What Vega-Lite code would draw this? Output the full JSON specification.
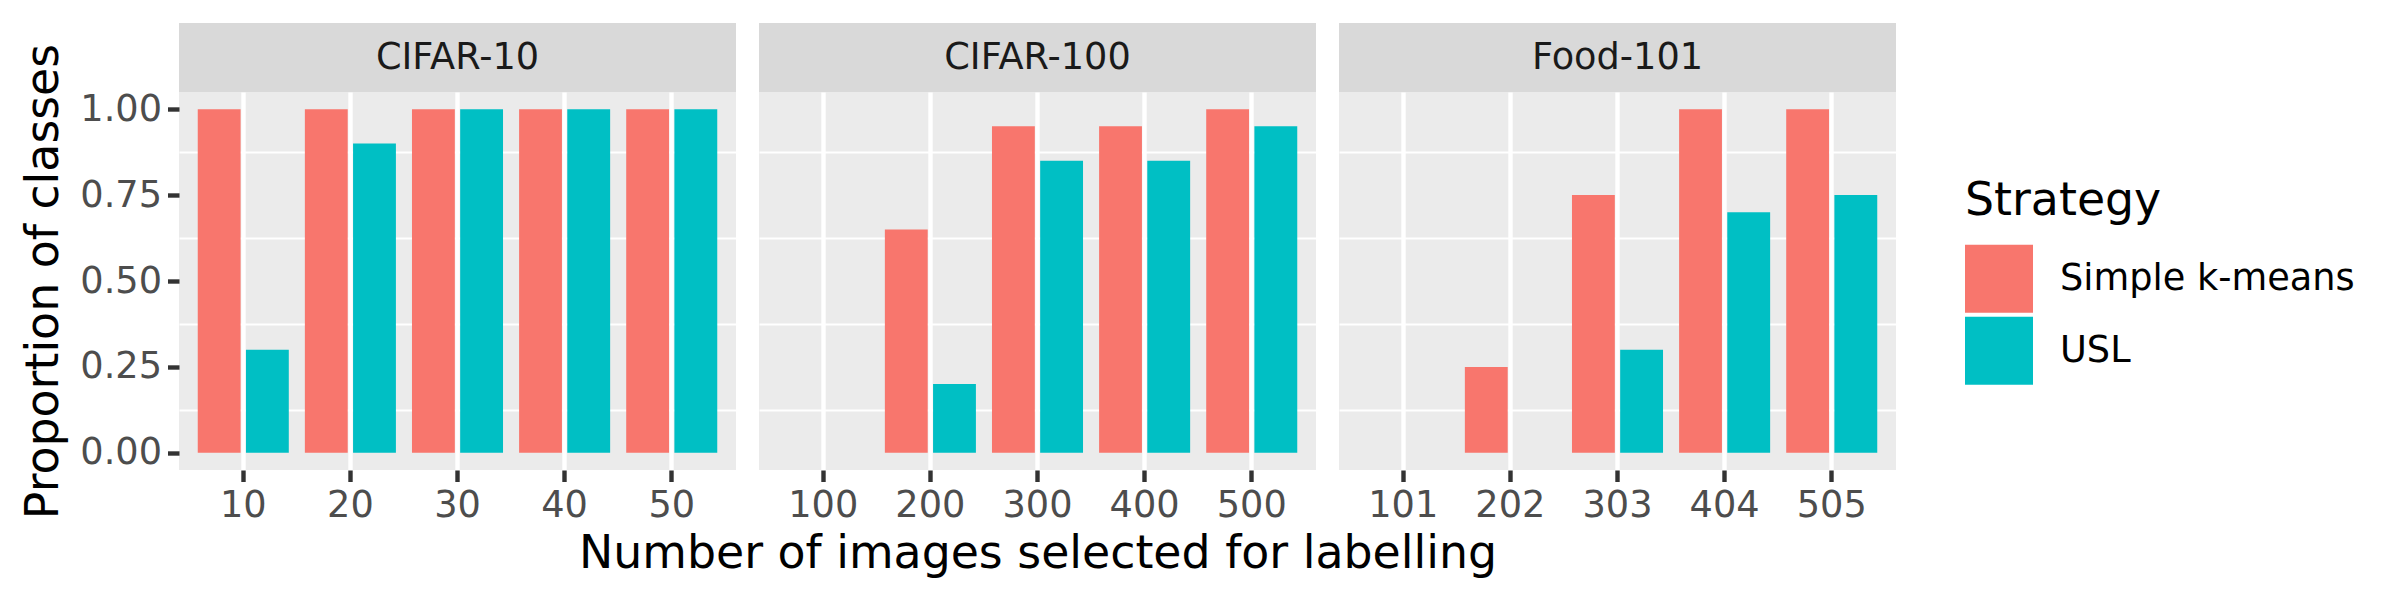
{
  "$schema": "https://vega.github.io/schema/vega-lite/v6.json",
  "background": "white",
  "padding": {"left": 20, "top": 23, "right": 5, "bottom": 5},
  "config": {
    "font": "DejaVu Sans",
    "view": {"stroke": null},
    "axis": {
      "domain": false,
      "grid": true,
      "gridColor": "white",
      "gridWidth": 4.4,
      "tickColor": "#333333",
      "tickSize": 11.5,
      "tickWidth": 4.4,
      "labelFontSize": 36.7,
      "labelColor": "#4D4D4D",
      "labelPadding": 6,
      "titleFontSize": 45.8,
      "titleFontWeight": "normal",
      "titleColor": "black"
    }
  },
  "datasets": {
    "bars": [
      {"dataset": "CIFAR-10", "n": "10", "strategy": "Simple k-means", "value": 1.0},
      {"dataset": "CIFAR-10", "n": "10", "strategy": "USL", "value": 0.3},
      {"dataset": "CIFAR-10", "n": "20", "strategy": "Simple k-means", "value": 1.0},
      {"dataset": "CIFAR-10", "n": "20", "strategy": "USL", "value": 0.9},
      {"dataset": "CIFAR-10", "n": "30", "strategy": "Simple k-means", "value": 1.0},
      {"dataset": "CIFAR-10", "n": "30", "strategy": "USL", "value": 1.0},
      {"dataset": "CIFAR-10", "n": "40", "strategy": "Simple k-means", "value": 1.0},
      {"dataset": "CIFAR-10", "n": "40", "strategy": "USL", "value": 1.0},
      {"dataset": "CIFAR-10", "n": "50", "strategy": "Simple k-means", "value": 1.0},
      {"dataset": "CIFAR-10", "n": "50", "strategy": "USL", "value": 1.0},
      {"dataset": "CIFAR-100", "n": "100", "strategy": "Simple k-means", "value": 0},
      {"dataset": "CIFAR-100", "n": "100", "strategy": "USL", "value": 0},
      {"dataset": "CIFAR-100", "n": "200", "strategy": "Simple k-means", "value": 0.65},
      {"dataset": "CIFAR-100", "n": "200", "strategy": "USL", "value": 0.2},
      {"dataset": "CIFAR-100", "n": "300", "strategy": "Simple k-means", "value": 0.95},
      {"dataset": "CIFAR-100", "n": "300", "strategy": "USL", "value": 0.85},
      {"dataset": "CIFAR-100", "n": "400", "strategy": "Simple k-means", "value": 0.95},
      {"dataset": "CIFAR-100", "n": "400", "strategy": "USL", "value": 0.85},
      {"dataset": "CIFAR-100", "n": "500", "strategy": "Simple k-means", "value": 1.0},
      {"dataset": "CIFAR-100", "n": "500", "strategy": "USL", "value": 0.95},
      {"dataset": "Food-101", "n": "101", "strategy": "Simple k-means", "value": 0},
      {"dataset": "Food-101", "n": "101", "strategy": "USL", "value": 0},
      {"dataset": "Food-101", "n": "202", "strategy": "Simple k-means", "value": 0.25},
      {"dataset": "Food-101", "n": "202", "strategy": "USL", "value": 0},
      {"dataset": "Food-101", "n": "303", "strategy": "Simple k-means", "value": 0.75},
      {"dataset": "Food-101", "n": "303", "strategy": "USL", "value": 0.3},
      {"dataset": "Food-101", "n": "404", "strategy": "Simple k-means", "value": 1.0},
      {"dataset": "Food-101", "n": "404", "strategy": "USL", "value": 0.7},
      {"dataset": "Food-101", "n": "505", "strategy": "Simple k-means", "value": 1.0},
      {"dataset": "Food-101", "n": "505", "strategy": "USL", "value": 0.75}
    ],
    "panels": [
      {"dataset": "CIFAR-10"},
      {"dataset": "CIFAR-100"},
      {"dataset": "Food-101"}
    ]
  },
  "bounds": "flush",
  "columns": 3,
  "spacing": {"row": 0, "column": 23},
  "concat": [
    {
      "width": 557, "height": 69,
      "view": {"fill": "#D9D9D9", "stroke": null},
      "data": {"name": "panels"},
      "transform": [{"filter": "datum.dataset === 'CIFAR-10'"}],
      "mark": {"type": "text", "fontSize": 36.7, "color": "#1A1A1A", "baseline": "middle", "align": "center"},
      "encoding": {"text": {"field": "dataset"}}
    },
    {
      "width": 557, "height": 69,
      "view": {"fill": "#D9D9D9", "stroke": null},
      "data": {"name": "panels"},
      "transform": [{"filter": "datum.dataset === 'CIFAR-100'"}],
      "mark": {"type": "text", "fontSize": 36.7, "color": "#1A1A1A", "baseline": "middle", "align": "center"},
      "encoding": {"text": {"field": "dataset"}}
    },
    {
      "width": 557, "height": 69,
      "view": {"fill": "#D9D9D9", "stroke": null},
      "data": {"name": "panels"},
      "transform": [{"filter": "datum.dataset === 'Food-101'"}],
      "mark": {"type": "text", "fontSize": 36.7, "color": "#1A1A1A", "baseline": "middle", "align": "center"},
      "encoding": {"text": {"field": "dataset"}}
    },
    {
      "width": 557, "height": 378,
      "view": {"fill": "#EBEBEB", "stroke": null},
      "data": {"name": "bars"},
      "transform": [{"filter": "datum.dataset === 'CIFAR-10'"}],
      "resolve": {"axis": {"y": "independent"}},
      "layer": [
        {
          "mark": {"type": "point", "opacity": 0},
          "encoding": {
            "y": {"field": "value", "type": "quantitative", "scale": {"domain": [-0.05, 1.05], "nice": false, "zero": false},
              "axis": {"orient": "left", "values": [0.125, 0.375, 0.625, 0.875], "gridWidth": 2.2, "labels": false, "ticks": false, "title": null}}
          }
        },
        {
          "mark": {"type": "bar"},
          "encoding": {
            "x": {"field": "n", "type": "nominal", "scale": {"paddingInner": 0.1, "paddingOuter": 0.15},
              "axis": {"title": null, "labelAngle": 0, "bandPosition": 0.5}},
            "xOffset": {"field": "strategy", "type": "nominal", "scale": {"paddingInner": 0.111, "paddingOuter": 0.0556}},
            "y": {"field": "value", "type": "quantitative", "scale": {"domain": [-0.05, 1.05], "nice": false, "zero": false},
              "axis": {"orient": "left", "values": [0, 0.25, 0.5, 0.75, 1], "format": ".2f", "title": "Proportion of classes", "titlePadding": 12}},
            "y2": {"datum": 0},
            "color": {"field": "strategy", "type": "nominal",
              "scale": {"domain": ["Simple k-means", "USL"], "range": ["#F8766D", "#00BFC4"]},
              "legend": {"title": "Strategy", "orient": "none", "legendX": 1786, "legendY": 156, "padding": 0,
                "symbolType": "square", "symbolSize": 4624, "symbolStrokeWidth": 0, "symbolOpacity": 1,
                "labelFontSize": 36.7, "labelColor": "black", "labelOffset": 27, "labelLimit": 0, "titleLimit": 0,
                "titleFontSize": 45.8, "titleFontWeight": "normal", "titleColor": "black", "titlePadding": 20, "rowPadding": 4}}
          }
        }
      ]
    },
    {
      "width": 557, "height": 378,
      "view": {"fill": "#EBEBEB", "stroke": null},
      "data": {"name": "bars"},
      "transform": [{"filter": "datum.dataset === 'CIFAR-100'"}],
      "resolve": {"axis": {"y": "independent"}},
      "layer": [
        {
          "mark": {"type": "point", "opacity": 0},
          "encoding": {
            "y": {"field": "value", "type": "quantitative", "scale": {"domain": [-0.05, 1.05], "nice": false, "zero": false},
              "axis": {"orient": "left", "values": [0.125, 0.375, 0.625, 0.875], "gridWidth": 2.2, "labels": false, "ticks": false, "title": null}}
          }
        },
        {
          "mark": {"type": "bar"},
          "encoding": {
            "x": {"field": "n", "type": "nominal", "scale": {"paddingInner": 0.1, "paddingOuter": 0.15},
              "axis": {"title": "Number of images selected for labelling", "labelAngle": 0, "bandPosition": 0.5, "titlePadding": 7}},
            "xOffset": {"field": "strategy", "type": "nominal", "scale": {"paddingInner": 0.111, "paddingOuter": 0.0556}},
            "y": {"field": "value", "type": "quantitative", "scale": {"domain": [-0.05, 1.05], "nice": false, "zero": false},
              "axis": {"orient": "left", "values": [0, 0.25, 0.5, 0.75, 1], "labels": false, "ticks": false, "title": null}},
            "y2": {"datum": 0},
            "color": {"field": "strategy", "type": "nominal",
              "scale": {"domain": ["Simple k-means", "USL"], "range": ["#F8766D", "#00BFC4"]}}
          }
        }
      ]
    },
    {
      "width": 557, "height": 378,
      "view": {"fill": "#EBEBEB", "stroke": null},
      "data": {"name": "bars"},
      "transform": [{"filter": "datum.dataset === 'Food-101'"}],
      "resolve": {"axis": {"y": "independent"}},
      "layer": [
        {
          "mark": {"type": "point", "opacity": 0},
          "encoding": {
            "y": {"field": "value", "type": "quantitative", "scale": {"domain": [-0.05, 1.05], "nice": false, "zero": false},
              "axis": {"orient": "left", "values": [0.125, 0.375, 0.625, 0.875], "gridWidth": 2.2, "labels": false, "ticks": false, "title": null}}
          }
        },
        {
          "mark": {"type": "bar"},
          "encoding": {
            "x": {"field": "n", "type": "nominal", "scale": {"paddingInner": 0.1, "paddingOuter": 0.15},
              "axis": {"title": null, "labelAngle": 0, "bandPosition": 0.5}},
            "xOffset": {"field": "strategy", "type": "nominal", "scale": {"paddingInner": 0.111, "paddingOuter": 0.0556}},
            "y": {"field": "value", "type": "quantitative", "scale": {"domain": [-0.05, 1.05], "nice": false, "zero": false},
              "axis": {"orient": "left", "values": [0, 0.25, 0.5, 0.75, 1], "labels": false, "ticks": false, "title": null}},
            "y2": {"datum": 0},
            "color": {"field": "strategy", "type": "nominal",
              "scale": {"domain": ["Simple k-means", "USL"], "range": ["#F8766D", "#00BFC4"]}}
          }
        }
      ]
    }
  ]
}
